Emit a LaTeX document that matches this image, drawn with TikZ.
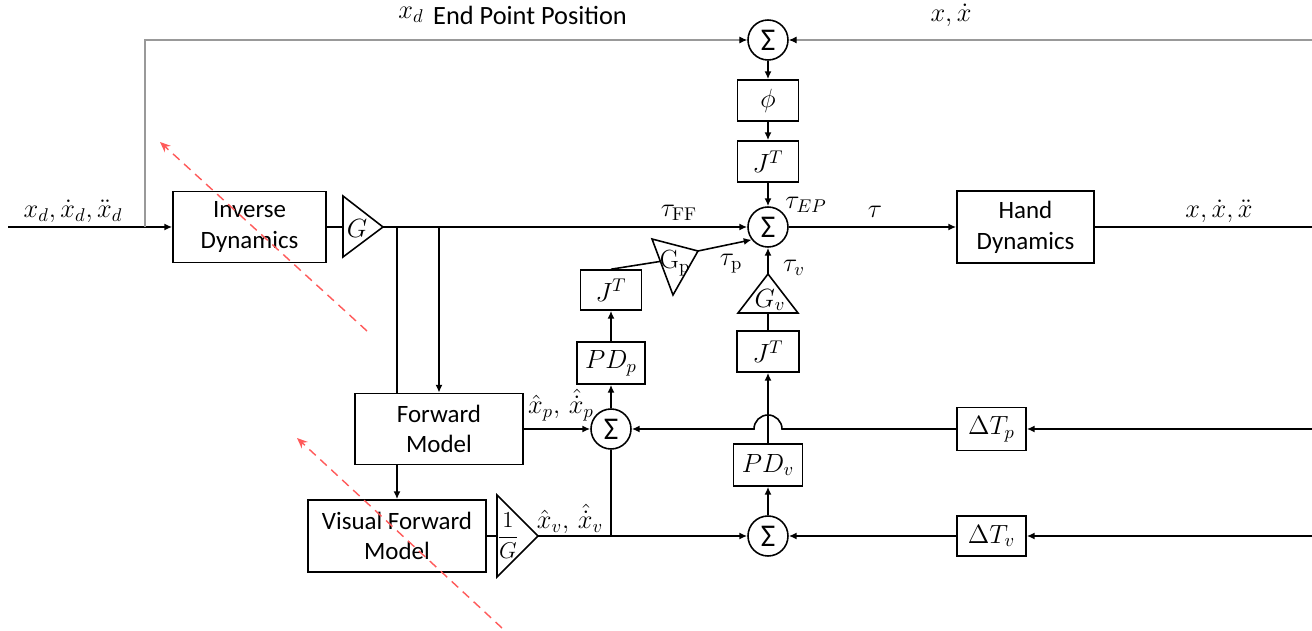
\RequirePackage{fix-cm}
\documentclass[tikz,border=0pt]{standalone}
\usepackage{amsmath}
\usepackage{fontspec}
\newfontfamily\calib{Carlito}
\usetikzlibrary{arrows.meta,calc}
\definecolor{reddash}{RGB}{255,90,90}
\begin{document}
\begin{tikzpicture}[x=0.02cm,y=-0.02cm,
  ln/.style={line width=0.9pt},
  conn/.style={line width=0.9pt,-{Latex[length=4.5pt,width=4pt]}},
  grayconn/.style={line width=0.6pt,draw=black!40,-{Latex[length=4.5pt,width=4pt,color=black]}},
  box/.style={draw,line width=0.9pt,inner sep=0pt,align=center,font=\calib\fontsize{14.2}{17.5}\selectfont},
  mbox/.style={draw,line width=0.9pt,inner sep=0pt,align=center,font=\fontsize{15}{17}\selectfont},
  sumnode/.style={circle,draw,line width=0.9pt,minimum size=0.8cm,inner sep=0pt,font=\calib\fontsize{18}{18}\selectfont},
  lab/.style={inner sep=0pt,font=\fontsize{15}{17}\selectfont},
  slab/.style={inner sep=0pt,font=\calib\fontsize{15}{17}\selectfont},
  redarrow/.style={draw=reddash,line width=0.8pt,dash pattern=on 5pt off 3.5pt,-{Stealth[length=6pt,width=5pt]}}]
\useasboundingbox (0,0) rectangle (1312,631);

% blocks
\node[box,minimum width=3.06cm,minimum height=1.42cm] (id) at (249.5,227) {Inverse\\Dynamics};
\node[box,minimum width=2.74cm,minimum height=1.44cm] (hd) at (1025.5,227) {Hand\\Dynamics};
\node[box,minimum width=3.36cm,minimum height=1.42cm] (fm) at (439,429) {Forward\\Model};
\node[box,minimum width=3.56cm,minimum height=1.44cm] (vfm) at (397,536) {Visual Forward\\Model};
\node[mbox,minimum width=1.22cm,minimum height=0.82cm] (phi) at (768,100.5) {$\phi$};
\node[mbox,minimum width=1.22cm,minimum height=0.82cm] (jt1) at (768,161.5) {$J^T$};
\node[mbox,minimum width=1.22cm,minimum height=0.80cm] (jtl) at (611,290) {$J^T$};
\node[mbox,minimum width=1.36cm,minimum height=0.84cm] (pdp) at (611,363) {$PD_p$};
\node[mbox,minimum width=1.24cm,minimum height=0.82cm] (jtr) at (768,351.5) {$J^T$};
\node[mbox,minimum width=1.38cm,minimum height=0.84cm] (pdv) at (768,465) {$PD_v$};
\node[mbox,minimum width=1.38cm,minimum height=0.86cm] (dtp) at (991.5,429) {$\Delta T_p$};
\node[mbox,minimum width=1.38cm,minimum height=0.80cm] (dtv) at (991.5,536) {$\Delta T_v$};

% summing junctions
\node[sumnode] (sumT) at (768,40) {Σ};
\node[sumnode] (sumM) at (768,227) {Σ};
\node[sumnode] (sumL) at (611,429) {Σ};
\node[sumnode] (sumB) at (768,536) {Σ};

% gain triangles
\coordinate (gA) at (343,196); \coordinate (gB) at (343,257); \coordinate (gout) at (383,227);
\coordinate (gin) at (343,227);
\draw[ln] (gA) -- (gout) -- (gB) -- cycle;
\node[lab] (gtxt) at (357,228) {$G$};

\coordinate (igA) at (497,495); \coordinate (igB) at (497,577); \coordinate (igout) at (538,536);
\coordinate (igin) at (497,536);
\draw[ln] (igA) -- (igout) -- (igB) -- cycle;
\node[lab,font=\fontsize{13}{15}\selectfont] (igtxt) at (508,536) {$\dfrac{1}{G}$};

\coordinate (gpA) at (652,239); \coordinate (gpout) at (698,251); \coordinate (gpC) at (673,295);
\coordinate (gpin) at ($(gpA)!0.4!(gpC)$);
\draw[ln] (gpA) -- (gpout) -- (gpC) -- cycle;
\node[lab] (gptxt) at (675,263) {$\mathrm{G_p}$};

\coordinate (gvA) at (738,313); \coordinate (gvB) at (798,313); \coordinate (gvout) at (768,274);
\coordinate (gvin) at (768,313);
\draw[ln] (gvA) -- (gvout) -- (gvB) -- cycle;
\node[lab] (gvtxt) at (770,300) {$G_v$};

% free ends
\coordinate (inp) at (8,227);
\coordinate (br) at (145,227);
\coordinate (rtop) at (1312,40);
\coordinate (rout) at (1312,227);
\coordinate (rp) at (1312,429);
\coordinate (rv) at (1312,536);
\coordinate (b1) at (397,227);
\coordinate (b2) at (439,227);
\coordinate (hopR) at (782,429);

% connectors
\draw[conn] (inp) -- (id.west);
\draw[grayconn] (br) |- (sumT.west);
\draw[grayconn] (rtop) -- (sumT.east);
\draw[conn] (sumT.south) -- (phi.north);
\draw[conn] (phi.south) -- (jt1.north);
\draw[conn] (jt1.south) -- (sumM.north);
\draw[ln] (id.east) -- (gin);
\draw[conn] (gout) -- (sumM.west);
\draw[ln] (b1) -- (b1 |- fm.north);
\draw[conn] (b2) -- (fm.north);
\draw[conn] (vfm.north |- fm.south) -- (vfm.north);
\draw[ln] (vfm.east) -- (igin);
\draw[conn] (igout) -- (sumB.west);
\draw[conn] (fm.east) -- (sumL.west);
\draw[ln] (sumL.south) -- (sumL.south |- sumB.west);
\draw[conn] (sumL.north) -- (pdp.south);
\draw[conn] (pdp.north) -- (jtl.south);
\draw[ln] (jtl.north) -- (gpin);
\draw[conn] (gpout) -- (sumM.218);
\draw[ln] (jtr.north) -- (gvin);
\draw[conn] (gvout) -- (sumM.south);
\draw[conn] (pdv.north) -- (jtr.south);
\draw[conn] (dtp.west) -- (hopR) arc[start angle=0,end angle=180,radius=0.28cm] -- (sumL.east);
\draw[conn] (sumB.north) -- (pdv.south);
\draw[conn] (dtv.west) -- (sumB.east);
\draw[conn] (rp) -- (dtp.east);
\draw[conn] (rv) -- (dtv.east);
\draw[conn] (sumM.east) -- (hd.west);
\draw[ln] (hd.east) -- (rout);

% labels
\node[lab] (l1) at (73,211) {$x_d,\dot{x}_d,\ddot{x}_d$};
\node[lab] (l2) at (411,15) {$x_d$};
\node[slab] (l3) at (530,15) {End Point Position};
\node[lab] (l4) at (951,15) {$x,\dot{x}$};
\node[lab] (l5) at (679,213) {$\tau_{\mathrm{FF}}$};
\node[lab] (l6) at (806,205) {$\tau_{EP}$};
\node[lab] (l7) at (875,212) {$\tau$};
\node[lab] (l8) at (1219,211) {$x,\dot{x},\ddot{x}$};
\node[lab] (l9) at (731,264) {$\tau_{\mathrm{p}}$};
\node[lab] (l10) at (794,268) {$\tau_v$};
\node[lab] (l11) at (561,405) {$\hat{x}_p,\,\hat{\dot{x}}_p$};
\node[lab] (l12) at (570,519) {$\hat{x}_v,\,\hat{\dot{x}}_v$};

% red dashed arrows
\coordinate (r1s) at (367,331); \coordinate (r1e) at (160,142);
\coordinate (r2s) at (502,628); \coordinate (r2e) at (297,438);
\draw[redarrow] (r1s) -- (r1e);
\draw[redarrow] (r2s) -- (r2e);
\end{tikzpicture}
\end{document}
